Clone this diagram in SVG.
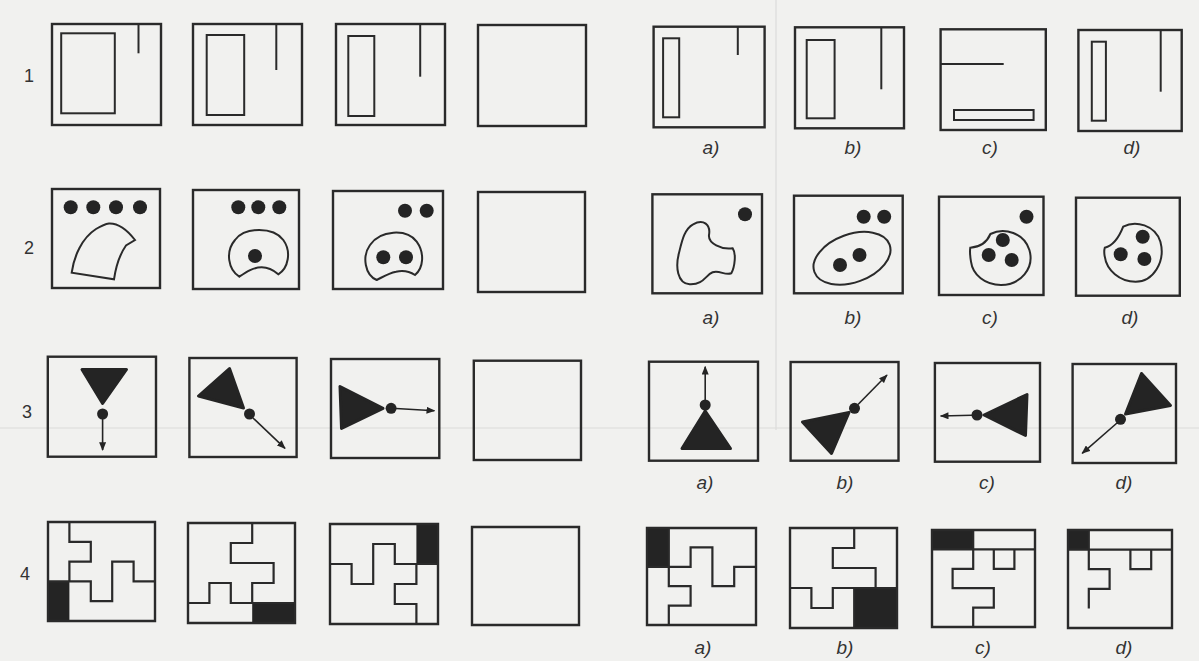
<svg xmlns="http://www.w3.org/2000/svg" width="1199" height="661" viewBox="0 0 1199 661">
<defs>
<style>
.bx{fill:none;stroke:#2a2a2a;stroke-width:2.4}
.ln{fill:none;stroke:#2a2a2a;stroke-width:2}
.pz{fill:none;stroke:#2a2a2a;stroke-width:2.2;vector-effect:non-scaling-stroke}
.pb{fill:none;stroke:#2a2a2a;stroke-width:2.4;vector-effect:non-scaling-stroke}
.blk{fill:#242424}
.dot{fill:#242424}
.tri{fill:#242424;stroke:#242424;stroke-width:3;stroke-linejoin:round}
.arr{stroke:#242424;stroke-width:1.6;fill:none;marker-end:url(#ah)}
.num{font-family:"Liberation Sans",Arial,sans-serif;font-size:18px;fill:#333;text-anchor:middle}
.lab{font-family:"Liberation Sans",Arial,sans-serif;font-size:19px;font-style:italic;fill:#333;text-anchor:middle}
.art{stroke:#dcdcda;stroke-width:1.2;fill:none}
</style>
<marker id="ah" viewBox="0 0 10 8" refX="9" refY="4" markerWidth="9" markerHeight="7" markerUnits="userSpaceOnUse" orient="auto"><path d="M0,0 L10,4 L0,8 Z" fill="#242424"/></marker>
</defs>
<rect width="1199" height="661" fill="#f1f1ef"/>
<g id="scan-artifacts">
<line class="art" x1="776" y1="0" x2="776" y2="430"/>
<line class="art" x1="0" y1="428" x2="1199" y2="428"/>
</g>

<g id="row-numbers">
<text class="num" x="29" y="82">1</text>
<text class="num" x="29" y="254">2</text>
<text class="num" x="27" y="418">3</text>
<text class="num" x="25" y="580">4</text>
</g>

<!-- Row 1 -->
<g id="r1-q1"><rect class="bx" x="52" y="24" width="109" height="101"/><rect class="ln" x="61.2" y="33.3" width="53.6" height="80"/><line class="ln" x1="138.5" y1="24" x2="138.5" y2="53.3"/></g>
<g id="r1-q2"><rect class="bx" x="193" y="24" width="109" height="101"/><rect class="ln" x="206.7" y="35" width="37.5" height="80"/><line class="ln" x1="276.3" y1="24" x2="276.3" y2="70"/></g>
<g id="r1-q3"><rect class="bx" x="336" y="24" width="109" height="101"/><rect class="ln" x="348.3" y="36" width="26" height="80"/><line class="ln" x1="420.2" y1="24" x2="420.2" y2="76.7"/></g>
<g id="r1-q4"><rect class="bx" x="478" y="25" width="108" height="101"/></g>
<g id="r1-a"><rect class="bx" x="653.6" y="26.7" width="111" height="100.6"/><rect class="ln" x="663.1" y="38.3" width="16.1" height="79"/><line class="ln" x1="737.8" y1="26.7" x2="737.8" y2="55"/><text class="lab" x="711" y="154">a)</text></g>
<g id="r1-b"><rect class="bx" x="795" y="27.3" width="109" height="101"/><rect class="ln" x="806.7" y="40" width="27.9" height="78.3"/><line class="ln" x1="881.3" y1="27.3" x2="881.3" y2="89.3"/><text class="lab" x="853" y="154">b)</text></g>
<g id="r1-c"><rect class="bx" x="940.6" y="29.3" width="105.2" height="100.7"/><line class="ln" x1="940.6" y1="64" x2="1003.7" y2="64"/><rect class="ln" x="954" y="110" width="79.6" height="10"/><text class="lab" x="990" y="154">c)</text></g>
<g id="r1-d"><rect class="bx" x="1078.4" y="30" width="103.3" height="101"/><rect class="ln" x="1091.8" y="41.7" width="14.1" height="79"/><line class="ln" x1="1160.7" y1="30" x2="1160.7" y2="91.7"/><text class="lab" x="1132" y="154">d)</text></g>

<!-- Row 2 -->
<g id="r2-q1"><rect class="bx" x="52" y="189" width="108" height="99"/>
<circle class="dot" cx="70.7" cy="207.3" r="7"/><circle class="dot" cx="93.3" cy="207.3" r="7"/><circle class="dot" cx="116" cy="207.3" r="7"/><circle class="dot" cx="140" cy="207.3" r="7"/>
<path class="ln" d="M71.7,272.7 C74,256 82,238 96,229 C101,226 105,224 109,223.5 C119,223 128,231 135,240 L126,245.5 C120,254 116,266 114,279.3 Z"/></g>
<g id="r2-q2"><rect class="bx" x="193" y="190" width="106" height="99"/>
<circle class="dot" cx="238.3" cy="207.3" r="7"/><circle class="dot" cx="258.3" cy="207.3" r="7"/><circle class="dot" cx="279.3" cy="207.3" r="7"/>
<path class="ln" d="M239.3,276.7 C228.3,270 225,251.7 235,240 C245,226.7 273.3,226.7 283.3,240 C291.7,251.7 288.3,268.3 278.3,274.3 C273.3,270 268.3,267.3 261.7,267.3 C253.3,267.3 246.7,271.7 239.3,276.7 Z"/>
<circle class="dot" cx="255" cy="256" r="7"/></g>
<g id="r2-q3"><rect class="bx" x="333" y="191" width="110" height="98"/>
<circle class="dot" cx="405" cy="210.7" r="7"/><circle class="dot" cx="426.7" cy="210.7" r="7"/>
<path class="ln" d="M376.7,280 C365,275 361.7,256.7 370,245 C380,230 406.7,228.3 416.7,241.7 C425,253.3 423.3,268.3 415,275 C410,271.7 403.3,270 396,271.7 C388.3,273.3 383.3,276.7 376.7,280 Z"/>
<circle class="dot" cx="383.3" cy="257.3" r="7"/><circle class="dot" cx="406" cy="257.3" r="7"/></g>
<g id="r2-q4"><rect class="bx" x="478" y="192" width="107" height="100"/></g>
<g id="r2-a"><rect class="bx" x="652.4" y="194.3" width="109.6" height="99"/>
<circle class="dot" cx="745" cy="214.3" r="7"/>
<path class="ln" d="M693.1,224.3 C703.7,218.3 710.8,225 709,235 C708,243.3 721.4,250 732.7,248.3 C736.3,253.3 734.9,266.7 731.3,273.3 C725,275.7 719.6,270 712.6,272.3 C705.5,275 703.7,285 689.6,284.3 C677.2,283.3 675.4,266.7 678.9,253.3 C681.8,241.7 684.2,229 693.1,224.3 Z"/>
<text class="lab" x="711" y="324">a)</text></g>
<g id="r2-b"><rect class="bx" x="794" y="195.7" width="108.7" height="97.6"/>
<circle class="dot" cx="863.7" cy="216.7" r="7"/><circle class="dot" cx="884.2" cy="216.7" r="7"/>
<ellipse class="ln" cx="852" cy="258.3" rx="40" ry="24" transform="rotate(-20 852 258.3)"/>
<circle class="dot" cx="840" cy="265" r="7"/><circle class="dot" cx="859.5" cy="255" r="7"/>
<text class="lab" x="853" y="324">b)</text></g>
<g id="r2-c"><rect class="bx" x="939" y="196.7" width="104.5" height="98.3"/>
<circle class="dot" cx="1026.5" cy="216.7" r="7"/>
<path class="ln" d="M970.3,247.7 Q985.1,246.7 990.4,234 C1004.6,226.7 1024.1,233.3 1029.4,250 C1034.7,268.3 1020.5,285 1001,285 C985.1,285 972.7,275 971,261.7 C969.9,255 969.9,250 970.3,247.7 Z"/>
<circle class="dot" cx="1002.8" cy="240" r="7"/><circle class="dot" cx="988.7" cy="255" r="7"/><circle class="dot" cx="1011.7" cy="260" r="7"/>
<text class="lab" x="990" y="324">c)</text></g>
<g id="r2-d"><rect class="bx" x="1076" y="197.7" width="103.8" height="98"/>
<path class="ln" d="M1104.8,247.7 Q1116.1,245 1123.2,226.7 C1135.6,220 1155,225 1160.4,241.7 C1165.7,261.7 1153.3,281.7 1135.6,281.7 C1119.6,281.7 1106.5,270 1104.8,256.7 C1104.1,253.3 1104.1,250 1104.8,247.7 Z"/>
<circle class="dot" cx="1142.7" cy="236.7" r="7"/><circle class="dot" cx="1120.7" cy="254.3" r="7"/><circle class="dot" cx="1144.4" cy="259" r="7"/>
<text class="lab" x="1130" y="324">d)</text></g>

<!-- Row 3 -->
<g id="r3-q1"><rect class="bx" x="47.8" y="356.7" width="108.2" height="100"/>
<polygon class="tri" points="82,369.5 126.5,369.5 102.6,403.5"/><circle class="dot" cx="102.6" cy="414" r="5.5"/>
<line class="arr" x1="102.6" y1="419" x2="102.6" y2="450"/></g>
<g id="r3-q2"><rect class="bx" x="189.4" y="358" width="107.2" height="99"/>
<polygon class="tri" points="198.5,396 229.5,368.5 243.5,408"/><circle class="dot" cx="249.5" cy="414" r="5.5"/>
<line class="arr" x1="253" y1="418" x2="285" y2="448.3"/></g>
<g id="r3-q3"><rect class="bx" x="331" y="359" width="108.3" height="99"/>
<polygon class="tri" points="340,386.5 341.5,428.5 383,408.3"/><circle class="dot" cx="391.1" cy="408.3" r="5.5"/>
<line class="arr" x1="396" y1="408.5" x2="434.4" y2="410.7"/></g>
<g id="r3-q4"><rect class="bx" x="473.8" y="360.7" width="107.2" height="99.3"/></g>
<g id="r3-a"><rect class="bx" x="649" y="361.7" width="109" height="99"/>
<polygon class="tri" points="682,448.5 730.5,448.5 705.2,411"/><circle class="dot" cx="705.2" cy="405" r="5.5"/>
<line class="arr" x1="705.2" y1="400" x2="705.2" y2="366.7"/><text class="lab" x="705" y="489">a)</text></g>
<g id="r3-b"><rect class="bx" x="790.6" y="362" width="107.9" height="98.7"/>
<polygon class="tri" points="802.5,422 831.5,453.5 849,412.5"/><circle class="dot" cx="854.5" cy="408.3" r="5.5"/>
<line class="arr" x1="858" y1="404.5" x2="887" y2="375"/><text class="lab" x="845" y="489">b)</text></g>
<g id="r3-c"><rect class="bx" x="934.9" y="363" width="105.1" height="98.7"/>
<polygon class="tri" points="1027,394.5 1025.5,435.5 984,415"/><circle class="dot" cx="977" cy="415" r="5.5"/>
<line class="arr" x1="972" y1="415.2" x2="940.6" y2="416"/><text class="lab" x="987" y="489">c)</text></g>
<g id="r3-d"><rect class="bx" x="1072.6" y="364" width="103.4" height="99"/>
<polygon class="tri" points="1141.5,373.5 1170.5,405.5 1125.5,414"/><circle class="dot" cx="1120.5" cy="419.3" r="5.5"/>
<line class="arr" x1="1117" y1="423" x2="1082.2" y2="453.3"/><text class="lab" x="1124" y="489">d)</text></g>

<!-- Row 4 (drawn in 0-100 units per box) -->
<g id="r4-q1" transform="translate(48,522) scale(1.07,0.99)">
<rect class="blk" x="0" y="60" width="20" height="40"/>
<polyline class="pz" points="20,0 20,20 40,20 40,40 20,40 20,60"/>
<polyline class="pz" points="0,60 20,60 40,60 40,80 60,80 60,40 80,40 80,60 100,60"/>
<rect class="pb" x="0" y="0" width="100" height="100"/></g>
<g id="r4-q2" transform="translate(188,523) scale(1.07,1.0)">
<rect class="blk" x="60" y="80" width="40" height="20"/>
<polyline class="pz" points="0,80 20,80 20,60 40,60 40,80 60,80 100,80"/>
<polyline class="pz" points="60,80 60,60 80,60 80,40 40,40 40,20 60,20 60,0"/>
<rect class="pb" x="0" y="0" width="100" height="100"/></g>
<g id="r4-q3" transform="translate(330,524) scale(1.08,1.0)">
<rect class="blk" x="80" y="0" width="20" height="40"/>
<polyline class="pz" points="80,100 80,80 60,80 60,60 80,60 80,40"/>
<polyline class="pz" points="100,40 80,40 60,40 60,20 40,20 40,60 20,60 20,40 0,40"/>
<rect class="pb" x="0" y="0" width="100" height="100"/></g>
<g id="r4-q4" transform="translate(472,527) scale(1.07,0.98)">
<rect class="pb" x="0" y="0" width="100" height="100"/></g>
<g id="r4-a"><g transform="translate(647,528) scale(1.09,0.97)">
<rect class="blk" x="0" y="0" width="20" height="40"/>
<polyline class="pz" points="0,40 20,40 40,40 40,20 60,20 60,60 80,60 80,40 100,40"/>
<polyline class="pz" points="20,0 20,60 40,60 40,80 20,80 20,100"/>
<rect class="pb" x="0" y="0" width="100" height="100"/></g><text class="lab" x="703" y="654">a)</text></g>
<g id="r4-b"><g transform="translate(790,528) scale(1.07,1.0)">
<rect class="blk" x="60" y="60" width="40" height="40"/>
<polyline class="pz" points="60,0 60,20 40,20 40,40 80,40 80,60"/>
<polyline class="pz" points="0,60 20,60 20,80 40,80 40,60 100,60"/>
<polyline class="pz" points="60,60 60,100"/>
<rect class="pb" x="0" y="0" width="100" height="100"/></g><text class="lab" x="845" y="654">b)</text></g>
<g id="r4-c"><g transform="translate(932,530) scale(1.03,0.97)">
<rect class="blk" x="0" y="0" width="40" height="20"/>
<polyline class="pz" points="0,20 100,20"/>
<polyline class="pz" points="40,0 40,20"/>
<polyline class="pz" points="60,20 60,40 80,40 80,20"/>
<polyline class="pz" points="40,20 40,40 20,40 20,60 60,60 60,80 40,80 40,100"/>
<rect class="pb" x="0" y="0" width="100" height="100"/></g><text class="lab" x="983" y="654">c)</text></g>
<g id="r4-d"><g transform="translate(1068,530) scale(1.04,0.98)">
<rect class="blk" x="0" y="0" width="20" height="20"/>
<polyline class="pz" points="0,20 100,20"/>
<polyline class="pz" points="20,0 20,20"/>
<polyline class="pz" points="60,20 60,40 80,40 80,20"/>
<polyline class="pz" points="20,20 20,40 40,40 40,60 20,60 20,80"/>
<rect class="pb" x="0" y="0" width="100" height="100"/></g><text class="lab" x="1124" y="654">d)</text></g>
</svg>
